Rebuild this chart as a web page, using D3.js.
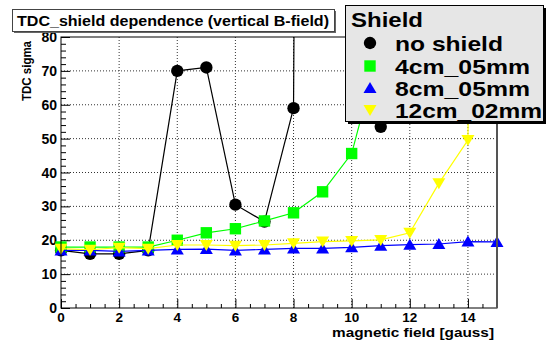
<!DOCTYPE html>
<html>
<head>
<meta charset="utf-8">
<script src="https://d3js.org/d3.v7.min.js"></script>
<style>
  body { margin: 0; background: white; }
  text { font-family: "Liberation Sans", Arial, sans-serif; font-weight: bold; }
</style>
</head>
<body>
<div id="svgcontainer"></div>
<script>
// data
const fieldNoShield = [0, 1, 2, 3, 4, 5, 6, 7, 8, 9, 10, 11];
const sigmaNoShield = [17, 16, 16, 17, 70, 71, 30.5, 25.5, 59, 1500, 600, 53.5];

const field4cm = [0, 1, 2, 3, 4, 5, 6, 7, 8, 9, 10, 11];
const sigma4cm = [18, 18, 18, 18, 20, 22.2, 23.4, 25.7, 28.1, 34.3, 45.6, 78];

const field8cm = [0, 1, 2, 3, 4, 5, 6, 7, 8, 9, 10, 11, 12, 13, 14, 15];
const sigma8cm = [17, 17, 16.7, 17, 17.3, 17.4, 17, 17.3, 17.6, 17.6, 17.9, 18.4, 18.7, 18.9, 19.6, 19.5];

const field12cm = [0, 1, 2, 3, 4, 5, 6, 7, 8, 9, 10, 11, 12, 13, 14, 15];
const sigma12cm = [17.5, 17.2, 17.8, 17.5, 18.6, 18.6, 18.4, 18.6, 19.1, 19.6, 19.8, 20.1, 22.2, 36.8, 49.6, 800];

const xTicks = [0, 2, 4, 6, 8, 10, 12, 14];
const yTicks = [0, 10, 20, 30, 40, 50, 60, 70, 80];

const legendNames = ["no shield", "4cm_05mm", "8cm_05mm", "12cm_02mm"];

// container
const width = 547;
const height = 343;
const frameLeft = 61, frameRight = 497, frameTop = 37, frameBottom = 308;

const svg = d3.select("#svgcontainer")
    .append("svg").attr("width", width).attr("height", height);

const x = d3.scaleLinear().domain([0, 15]).range([frameLeft, frameRight]);
const y = d3.scaleLinear().domain([0, 80]).range([frameBottom, frameTop]);

// grid
svg.append("g").selectAll("line")
    .data(xTicks.filter(d => d > 0))
    .join("line")
    .attr("x1", d => x(d)).attr("x2", d => x(d))
    .attr("y1", frameTop).attr("y2", frameBottom)
    .attr("stroke", "#333").attr("stroke-width", 1)
    .attr("stroke-dasharray", "1,2");

svg.append("g").selectAll("line")
    .data(yTicks.filter(d => d > 0 && d < 80))
    .join("line")
    .attr("x1", frameLeft).attr("x2", frameRight)
    .attr("y1", d => y(d)).attr("y2", d => y(d))
    .attr("stroke", "#333").attr("stroke-width", 1)
    .attr("stroke-dasharray", "1,2");

// axes (ticks inward)
const xAxis = d3.axisTop(x)
    .tickValues(d3.range(0, 15.01, 0.5))
    .tickSize(4)
    .tickFormat("");
svg.append("g")
    .attr("transform", `translate(0,${frameBottom})`)
    .call(xAxis)
    .call(g => g.select(".domain").remove())
    .call(g => g.selectAll(".tick line").attr("stroke", "black")
        .attr("y2", d => xTicks.includes(d) ? -9 : -4));

const yAxis = d3.axisRight(y)
    .tickValues(d3.range(0, 80.01, 2))
    .tickSize(4)
    .tickFormat("");
svg.append("g")
    .attr("transform", `translate(${frameLeft},0)`)
    .call(yAxis)
    .call(g => g.select(".domain").remove())
    .call(g => g.selectAll(".tick line").attr("stroke", "black")
        .attr("x2", d => yTicks.includes(d) ? 9 : 5));

// tick labels
svg.append("g").selectAll("text")
    .data(xTicks)
    .join("text")
    .attr("x", d => x(d))
    .attr("y", 322)
    .attr("text-anchor", "middle")
    .attr("font-size", 13.5)
    .text(d => d);

svg.append("g").selectAll("text")
    .data(yTicks)
    .join("text")
    .attr("x", 57)
    .attr("y", d => y(d) + 5)
    .attr("text-anchor", "end")
    .attr("font-size", 14)
    .text(d => d);

// axis titles
svg.append("text")
    .attr("x", 494).attr("y", 337)
    .attr("text-anchor", "end")
    .attr("font-size", 12)
    .attr("textLength", 162).attr("lengthAdjust", "spacingAndGlyphs")
    .text("magnetic field [gauss]");

svg.append("text")
    .attr("transform", "translate(31,101) rotate(-90)")
    .attr("font-size", 12.5)
    .attr("textLength", 60).attr("lengthAdjust", "spacingAndGlyphs")
    .text("TDC sigma");

// series
const series = [
    { xs: fieldNoShield, ys: sigmaNoShield, color: "black", marker: "circle" },
    { xs: field4cm, ys: sigma4cm, color: "#00ff00", marker: "square" },
    { xs: field8cm, ys: sigma8cm, color: "#0000ff", marker: "triangle" },
    { xs: field12cm, ys: sigma12cm, color: "#ffff00", marker: "down" }
];

svg.append("clipPath").attr("id", "frameclip")
    .append("rect")
    .attr("x", frameLeft).attr("y", frameTop)
    .attr("width", frameRight - frameLeft).attr("height", frameBottom - frameTop);

const line = d3.line().x(d => x(d[0])).y(d => y(d[1]));

function markerPath(kind) {
    if (kind === "circle") return d3.symbol(d3.symbolCircle, 120)();
    if (kind === "square") return d3.symbol(d3.symbolSquare, 130)();
    if (kind === "triangle") return "M0,-6L6.5,5L-6.5,5Z";
    return "M0,6L6.5,-5L-6.5,-5Z";
}

series.forEach(s => {
    const pts = s.xs.map((v, i) => [v, s.ys[i]]);
    svg.append("path")
        .attr("clip-path", "url(#frameclip)")
        .attr("d", line(pts))
        .attr("fill", "none")
        .attr("stroke", s.color)
        .attr("stroke-width", 1.2);
    svg.append("g").selectAll("path")
        .data(pts.filter(p => p[1] <= 80))
        .join("path")
        .attr("transform", p => `translate(${x(p[0])},${y(p[1])})`)
        .attr("d", markerPath(s.marker))
        .attr("fill", s.color);
});

// frame
svg.append("rect")
    .attr("x", frameLeft).attr("y", frameTop)
    .attr("width", frameRight - frameLeft).attr("height", frameBottom - frameTop)
    .attr("fill", "none").attr("stroke", "black").attr("stroke-width", 1);
svg.append("line")
    .attr("x1", frameRight).attr("x2", frameRight).attr("y1", frameTop).attr("y2", frameBottom)
    .attr("stroke", "#555").attr("stroke-width", 2);

// title box
svg.append("rect")
    .attr("x", 14).attr("y", 11)
    .attr("width", 322).attr("height", 22)
    .attr("fill", "#666");
svg.append("rect")
    .attr("x", 12.5).attr("y", 9.5)
    .attr("width", 322).attr("height", 22)
    .attr("fill", "white").attr("stroke", "#444").attr("stroke-width", 1);
svg.append("text")
    .attr("x", 17).attr("y", 26)
    .attr("font-size", 15)
    .attr("textLength", 312).attr("lengthAdjust", "spacingAndGlyphs")
    .text("TDC_shield dependence (vertical B-field)");

// legend
const lx = 345, ly = 5, lw = 198, lh = 116;
svg.append("rect")
    .attr("x", lx + 3).attr("y", ly + 3)
    .attr("width", lw).attr("height", lh)
    .attr("fill", "black");
svg.append("rect")
    .attr("x", lx + 0.5).attr("y", ly + 0.5)
    .attr("width", lw).attr("height", lh)
    .attr("fill", "#e6e6e6").attr("stroke", "black").attr("stroke-width", 1);
svg.append("text")
    .attr("x", 351).attr("y", 27)
    .attr("font-size", 21)
    .attr("textLength", 72).attr("lengthAdjust", "spacingAndGlyphs")
    .text("Shield");

const rowY = [43, 66, 88, 110];
const rowWidths = [108, 135, 135, 147];
series.forEach((s, i) => {
    svg.append("path")
        .attr("transform", `translate(370,${rowY[i]})`)
        .attr("d", markerPath(s.marker))
        .attr("fill", s.color);
    svg.append("text")
        .attr("x", 395).attr("y", rowY[i] + 7.5)
        .attr("font-size", 21)
        .attr("textLength", rowWidths[i])
        .attr("lengthAdjust", "spacingAndGlyphs")
        .text(legendNames[i]);
});
</script>
</body>
</html>
